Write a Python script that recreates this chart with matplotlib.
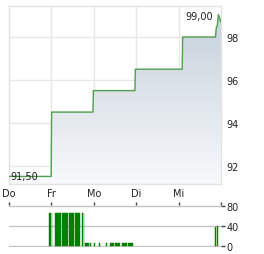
import numpy as np
import matplotlib
matplotlib.use("Agg")
import matplotlib.pyplot as plt
from matplotlib.colors import LinearSegmentedColormap

# Kursverlauf (Zeit in Handelstagen ab Donnerstag, Kurs)
t_kurs = [0.0, 0.995, 1.005, 1.98, 1.99, 2.97, 2.98, 4.085, 4.095, 4.87,
          4.89, 4.91, 4.94, 4.965, 5.0]
kurs = [91.5, 91.5, 94.5, 94.5, 95.5, 95.5, 96.5, 96.5, 98.0, 98.0,
        98.45, 98.5, 99.05, 98.9, 98.7]

# Umsatz (Zeitpunkt, Stückzahl)
t_vol = [0.950, 0.983, 1.014,
         1.090, 1.113, 1.137, 1.160, 1.184, 1.208,
         1.262, 1.285, 1.309, 1.333, 1.356, 1.380,
         1.427, 1.450, 1.474, 1.498, 1.521,
         1.575, 1.599, 1.623, 1.646, 1.670,
         1.726, 1.769,
         1.804, 1.828, 1.851, 1.875, 1.929, 2.009, 2.127, 2.300,
         2.394, 2.417, 2.441, 2.465,
         2.512, 2.535, 2.559, 2.583, 2.606,
         2.670, 2.693, 2.717, 2.741, 2.764,
         2.811, 2.835, 2.858, 2.882, 2.906,
         4.866, 4.921]
vol = [67, 67, 67,
       67, 67, 67, 67, 67, 67,
       67, 67, 67, 67, 67, 67,
       67, 67, 67, 67, 67,
       67, 67, 67, 67, 67,
       67, 67,
       7, 7, 7, 7, 7, 7, 7, 7,
       7, 7, 7, 7,
       7, 7, 7, 7, 7,
       7, 7, 7, 7, 7,
       7, 7, 7, 7, 7,
       38, 40]

tage = ["Do", "Fr", "Mo", "Di", "Mi"]
kurs_ticks = [92, 94, 96, 98]
vol_ticks = [0, 40, 80]

txt = "#222222"
plt.rcParams["font.family"] = "DejaVu Sans"
plt.rcParams["font.size"] = 7

fig = plt.figure(figsize=(2.64, 2.55), dpi=100)

# --- Kurschart ---
ax = fig.add_axes([9 / 264, 70 / 255, 212 / 264, 178 / 255])
ymin, ymax = 91.147, 99.445
ax.set_xlim(0, 5)
ax.set_ylim(ymin, ymax)

for x in range(1, 5):
    ax.axvline(x, color="#e8e8e8", lw=1, zorder=0)
for y in kurs_ticks:
    ax.axhline(y, color="#e8e8e8", lw=1, zorder=0)

poly = ax.fill_between(t_kurs, kurs, ymin, facecolor="none", edgecolor="none")
cmap = LinearSegmentedColormap.from_list("g", ["#f8f9fb", "#c3cfd9"])
grad = np.linspace(0, 1, 256).reshape(-1, 1)
img = ax.imshow(grad, cmap=cmap, origin="lower", aspect="auto",
                extent=[0, 5, ymin, 99.4], zorder=1)
img.set_clip_path(poly.get_paths()[0], transform=ax.transData)
ax.plot(t_kurs, kurs, color="#4e9e4e", lw=1, zorder=3)

ax.text(4.82, 99.0, "99,00", ha="right", va="center", color=txt, zorder=4)
ax.text(0.03, 91.5, "91,50", ha="left", va="center", color=txt, zorder=4)

ax.set_xticks(range(5))
ax.set_xticklabels(tage, color=txt)
ax.set_yticks(kurs_ticks)
ax.yaxis.tick_right()
ax.tick_params(axis="y", length=0, pad=4, labelcolor=txt)
ax.tick_params(axis="x", length=0, pad=3, labelcolor=txt)
for s in ax.spines.values():
    s.set_color("#e3e3e3")
    s.set_linewidth(1)

# --- Umsatz ---
av = fig.add_axes([9 / 264, 7 / 255, 212 / 264, 41.7 / 255])
av.set_xlim(0, 5)
av.set_ylim(-2, 82)
for y in vol_ticks:
    av.axhline(y, color="#c4c4c4", lw=1, zorder=0)
av.bar(t_vol, vol, width=0.02, color="#008000", edgecolor="#008000",
       linewidth=0.3, zorder=2)
for s in av.spines.values():
    s.set_visible(False)
av.set_yticks(vol_ticks)
av.yaxis.tick_right()
av.tick_params(axis="y", length=3, width=1, color="#444444", pad=1,
               labelcolor=txt)
av.set_xticks(range(6))
av.xaxis.tick_top()
av.tick_params(axis="x", length=2, width=1, color="#444444",
               labeltop=False, labelbottom=False)

fig.savefig("out.png", dpi=100)
